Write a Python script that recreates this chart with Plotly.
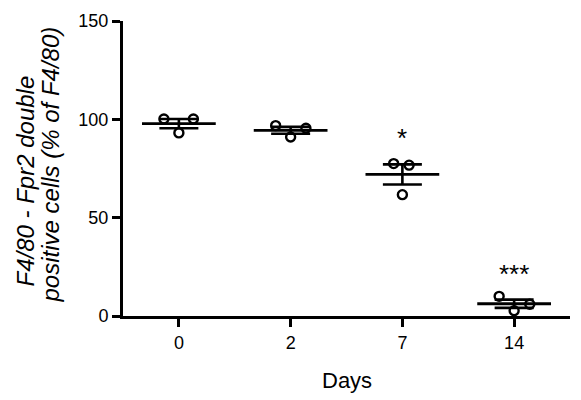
import numpy as np
import plotly.graph_objects as go

# ---- data ----
days = ["0", "2", "7", "14"]
values = [
    [100.2, 93.1, 100.2],   # day 0
    [96.8, 91.0, 95.5],     # day 2
    [77.5, 61.7, 76.7],     # day 7
    [10.0, 2.7, 6.0],       # day 14
]
significance = ["", "", "*", "***"]
y_title_lines = ["F4/80 - Fpr2 double", "positive cells (% of F4/80)"]
x_title = "Days"

# ---- layout / style constants ----
jitter = [
    [-0.134, 0.0, 0.130],
    [-0.134, 0.0, 0.137],
    [-0.078, 0.0, 0.060],
    [-0.134, 0.0, 0.140],
]
mean_half = 0.33
FONT = "Liberation Sans, Arial, sans-serif"

fig = go.Figure()

# mean lines
mx, my = [], []
means, sems = [], []
for i, v in enumerate(values):
    arr = np.array(v, dtype=float)
    m = arr.mean()
    s = arr.std(ddof=1) / np.sqrt(len(arr))
    means.append(m)
    sems.append(s)
    mx += [i - mean_half, i + mean_half, None]
    my += [m, m, None]

fig.add_trace(go.Scatter(x=mx, y=my, mode="lines",
                         line=dict(color="black", width=2.8),
                         cliponaxis=False, hoverinfo="skip", showlegend=False))

# SEM error bars
fig.add_trace(go.Scatter(x=list(range(len(days))), y=means, mode="markers",
                         marker=dict(size=0.1, color="rgba(0,0,0,0)"),
                         error_y=dict(type="data", array=sems, visible=True,
                                      color="black", thickness=2.6, width=19.5),
                         cliponaxis=False, hoverinfo="skip", showlegend=False))

# individual points
px, py = [], []
for i, v in enumerate(values):
    for j, val in enumerate(v):
        px.append(i + jitter[i][j])
        py.append(val)
fig.add_trace(go.Scatter(x=px, y=py, mode="markers",
                         marker=dict(symbol="circle-open", size=9, color="black",
                                     line=dict(width=2.4, color="black")),
                         cliponaxis=False, showlegend=False))

annotations = []
for i, sig in enumerate(significance):
    if sig:
        annotations.append(dict(x=i, y=means[i] + sems[i], xref="x", yref="y",
                                text=sig, showarrow=False, yanchor="bottom",
                                yshift=9, font=dict(family=FONT, size=26, color="black")))

# y-axis title: two lines placed separately
ytitle_pos = [(-98, -13), (-73, 4)]
for line, (xs, ys) in zip(y_title_lines, ytitle_pos):
    annotations.append(dict(x=0, y=0.5, xref="paper", yref="paper", xanchor="center",
                            yanchor="middle", xshift=xs, yshift=ys, textangle=-90,
                            showarrow=False, text="<i>" + line + "</i>",
                            font=dict(family=FONT, size=24, color="black")))
annotations.append(dict(x=0.5, y=0, xref="paper", yref="paper", xanchor="center",
                        yanchor="top", yshift=-50, showarrow=False, text=x_title,
                        font=dict(family=FONT, size=22, color="black")))

fig.update_layout(
    width=581, height=400,
    margin=dict(l=123, r=11, t=16, b=84),
    paper_bgcolor="white", plot_bgcolor="white",
    font=dict(family=FONT, color="black"),
    annotations=annotations,
    xaxis=dict(range=[-0.5, 3.5], tickmode="array",
               tickvals=list(range(len(days))), ticktext=days,
               showgrid=False, zeroline=False, showline=True, linecolor="black",
               linewidth=3, ticks="outside", ticklen=8, tickwidth=2.5,
               tickcolor="black", tickfont=dict(size=18, family=FONT, color="black")),
    yaxis=dict(range=[0, 150], tickvals=[0, 50, 100, 150],
               showgrid=False, zeroline=False, showline=True, linecolor="black",
               linewidth=3, ticks="outside", ticklen=8, tickwidth=2.5,
               tickcolor="black", tickfont=dict(size=18, family=FONT, color="black")),
)

fig.write_html("out.html")
